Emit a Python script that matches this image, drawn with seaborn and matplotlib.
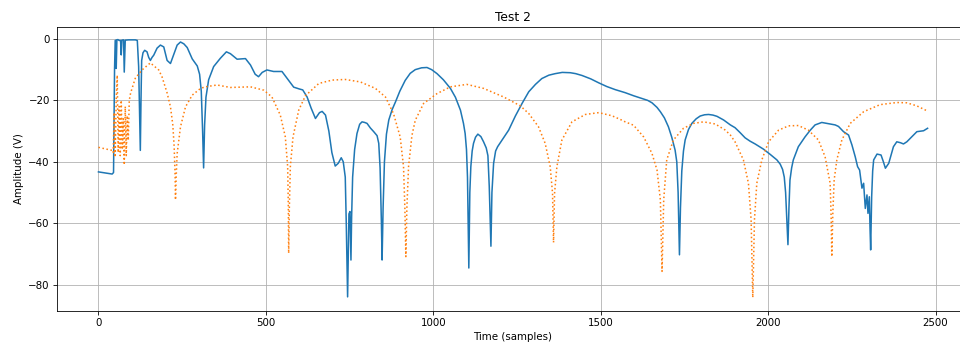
import matplotlib
matplotlib.use("Agg")
import matplotlib.pyplot as plt
import seaborn as sns
import pandas as pd

# Measured response, solid trace: sample index and amplitude (V)
measured_t = [0, 41, 45, 47, 48, 50, 52, 53, 55, 58, 62, 66, 68, 70, 75, 77, 80, 90,
              110, 116, 120, 123, 125, 127, 129, 133, 138, 145, 150, 155, 160, 165, 175,
              185, 195, 205, 215, 225, 235, 245, 255, 265, 280, 295, 302, 307, 311, 314,
              317, 321, 329, 344, 364, 382, 394, 414, 439, 454, 468, 478, 489, 503, 523,
              548, 563, 583, 600, 610, 623, 635, 648, 660, 668, 678, 688, 697, 707, 716,
              725, 731, 737, 740, 744, 746, 748, 751, 754, 756, 759, 765, 772, 780, 787,
              795, 802, 812, 822, 832, 837, 841, 845, 847, 850, 854, 860, 867, 877, 887,
              900, 916, 931, 946, 965, 981, 995, 1011, 1030, 1051, 1066, 1081, 1090, 1095,
              1099, 1102, 1106, 1109, 1112, 1116, 1120, 1126, 1133, 1142, 1150, 1158, 1163,
              1167, 1172, 1175, 1180, 1186, 1192, 1208, 1225, 1245, 1265, 1285, 1305, 1324,
              1345, 1364, 1385, 1409, 1425, 1444, 1470, 1494, 1518, 1543, 1573, 1598, 1618,
              1640, 1653, 1668, 1678, 1690, 1702, 1712, 1722, 1727, 1731, 1735, 1738, 1742,
              1747, 1752, 1762, 1772, 1785, 1797, 1810, 1822, 1835, 1847, 1867, 1887, 1901,
              1916, 1931, 1946, 1961, 1986, 2006, 2026, 2036, 2043, 2048, 2052, 2056, 2059,
              2062, 2065, 2070, 2075, 2090, 2110, 2125, 2140, 2160, 2180, 2200, 2210, 2225,
              2240, 2250, 2260, 2267, 2273, 2280, 2285, 2290, 2295, 2298, 2302, 2304, 2306,
              2309, 2312, 2315, 2325, 2337, 2344, 2350, 2360, 2374, 2384, 2395, 2404, 2414,
              2424, 2444, 2464, 2476]
measured_v = [-43.3, -44.0, -43.5, -20.0, -10.0, -0.5, -0.4, -9.6, -0.3, -0.2, -0.5, -0.5,
              -5.2, -0.4, -0.3, -10.8, -0.4, -0.3,
              -0.3, -0.5, -9.0, -25.0, -36.3, -20.0, -7.0, -4.5, -3.7, -4.2, -6.0, -7.0,
              -6.0, -5.3, -3.0,
              -2.0, -2.6, -7.0, -8.0, -5.0, -2.0, -1.0, -1.6, -2.8, -6.5, -8.8, -11.5,
              -17.0, -30.0, -42.0,
              -28.0, -19.0, -13.3, -9.0, -6.3, -4.2, -4.8, -6.6, -6.4, -8.5, -11.5, -12.3,
              -10.9, -10.1, -10.6,
              -10.6, -12.8, -15.7, -16.3, -16.6, -18.9, -22.5, -25.9, -24.0, -23.6, -24.8,
              -30.0, -37.0, -41.4, -40.5,
              -38.7, -40.0, -45.0, -60.0, -84.0, -70.0, -57.0, -56.2, -72.0, -58.0, -45.0,
              -36.0, -30.8, -27.8, -27.0,
              -27.2, -27.5, -29.0, -30.2, -31.5, -34.0, -42.0, -60.0, -72.0, -55.0, -40.0,
              -31.0, -26.4, -23.0, -20.5,
              -17.0, -13.5, -11.2, -10.0, -9.4, -9.3, -10.0, -11.3, -13.3, -16.1, -19.0,
              -23.2, -27.5, -30.8,
              -36.0, -45.0, -74.6, -50.0, -41.6, -36.5, -34.0, -32.0, -31.0, -31.8, -33.5,
              -35.5, -38.0,
              -48.0, -67.5, -50.0, -40.5, -36.5, -35.1, -32.5, -29.7, -25.1, -21.0, -17.2,
              -14.8, -12.9,
              -11.8, -11.3, -10.9, -11.0, -11.3, -11.9, -13.0, -14.3, -15.5, -16.5, -17.5,
              -18.5, -19.2,
              -20.0, -20.8, -22.3, -23.7, -25.7, -28.6, -32.0, -36.2, -40.0, -50.0, -70.3,
              -55.0, -43.0,
              -36.5, -32.9, -29.5, -27.5, -26.0, -25.1, -24.7, -24.6, -24.8, -25.2, -26.4,
              -28.0, -28.9,
              -30.5, -32.2, -33.3, -34.2, -35.9, -37.6, -39.4, -40.8, -42.5, -45.0, -50.0,
              -60.0, -67.0,
              -55.0, -46.0, -42.0, -39.4, -35.1, -31.9, -29.8, -28.0, -27.2, -27.6, -28.0,
              -28.5, -30.2,
              -31.3, -34.5, -38.4, -41.6, -42.7, -48.6, -47.0, -55.2, -50.8, -56.8, -51.4,
              -61.1, -68.7,
              -51.4, -43.0, -39.4, -37.5, -37.8, -40.0, -42.1, -40.5, -35.1, -33.5, -33.8,
              -34.2, -33.5,
              -32.4, -30.2, -29.9, -29.1]

# Model response, dotted trace
model_t = [0, 41, 44, 47, 50, 53, 56, 59, 62, 65, 68, 71, 74, 77, 80, 83, 86, 89, 92,
           96, 110, 130, 155, 180, 190, 205, 215, 222, 226, 229, 230, 232, 235, 245, 260,
           280, 305, 319, 354, 394, 454, 494, 518, 543, 558, 565, 567, 568, 570, 573, 581,
           598, 618, 633, 658, 698, 737, 782, 827, 857, 881, 901, 911, 915, 918, 921, 926,
           936, 946, 971, 1011, 1051, 1100, 1150, 1210, 1260, 1285, 1314, 1334, 1349, 1356,
           1359, 1362, 1369, 1384, 1414, 1454, 1494, 1533, 1558, 1573, 1598, 1628, 1653,
           1668, 1678, 1683, 1688, 1697, 1717, 1747, 1777, 1807, 1842, 1872, 1887, 1901,
           1926, 1941, 1949, 1954, 1959, 1966, 1981, 2001, 2031, 2061, 2090, 2120, 2150,
           2170, 2185, 2188, 2190, 2193, 2197, 2205, 2220, 2245, 2285, 2334, 2384, 2414,
           2444, 2474]
model_v = [-35.3, -36.3, -37.0, -24.0, -38.5, -20.0, -11.8, -37.0, -22.0, -38.0, -20.0,
           -36.0, -26.0, -41.0, -22.0, -38.0, -25.0, -33.0, -20.0,
           -17.6, -12.8, -10.1, -7.8, -10.1, -12.4, -17.6, -22.1, -28.0, -35.0, -45.0,
           -52.4, -45.0, -37.3, -28.6, -22.1,
           -18.3, -16.1, -15.6, -15.0, -15.8, -15.6, -16.7, -18.9, -24.8, -31.9, -41.6,
           -55.0, -69.8, -55.0, -41.6, -31.9,
           -23.2, -18.5, -17.0, -14.5, -13.4, -13.2, -14.0, -16.1, -18.9, -24.3, -31.9,
           -41.6, -55.0, -70.9, -55.0, -41.6,
           -31.5, -26.5, -21.0, -17.8, -15.6, -14.8, -16.1, -18.9, -21.8, -24.3, -28.6,
           -34.0, -41.6, -50.3,
           -66.3, -50.3, -41.6, -32.9, -27.0, -24.6, -24.0, -25.0, -26.2, -27.0, -28.1,
           -31.9, -37.3,
           -42.7, -52.4, -75.7, -52.4, -39.4, -32.9, -29.1, -27.5, -27.0, -27.7, -29.7,
           -31.3, -33.5,
           -39.4, -47.0, -58.9, -84.2, -58.9, -47.0, -39.4, -33.5, -29.7, -28.3, -28.2,
           -29.7, -32.9,
           -38.4, -47.0, -58.0, -70.9, -56.8, -45.9, -39.4, -32.9, -27.5, -23.7, -21.4,
           -20.7, -20.8,
           -21.8, -23.4]

measured = pd.DataFrame({"t": measured_t, "v": measured_v})
model = pd.DataFrame({"t": model_t, "v": model_v})

fig = plt.figure(figsize=(13, 4.726), dpi=73.85)
ax = fig.add_axes([0.0594, 0.1089, 0.9496, 0.8138])

sns.lineplot(data=measured, x="t", y="v", ax=ax, color="C0", linewidth=1.5,
             sort=False, estimator=None)
sns.lineplot(data=model, x="t", y="v", ax=ax, color="C1", linewidth=1.5,
             linestyle=":", sort=False, estimator=None)

ax.set_xlim(-123.75, 2598.75)
ax.set_ylim(-88.6, 3.9)
ax.set_xticks([0, 500, 1000, 1500, 2000, 2500])
ax.set_yticks([-80, -60, -40, -20, 0])
ax.grid(True, color="#b0b0b0", linewidth=0.8)
ax.set_axisbelow(True)
ax.set_title("Test 2")
ax.set_xlabel("Time (samples)")
ax.set_ylabel("Amplitude (V)")

fig.savefig("out.png", dpi=73.85)
